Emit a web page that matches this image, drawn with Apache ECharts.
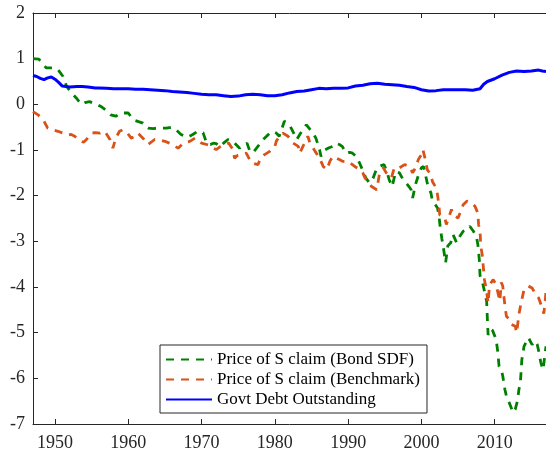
<!DOCTYPE html>
<html>
<head>
<meta charset="utf-8">
<script src="https://cdn.jsdelivr.net/npm/echarts@6/dist/echarts.min.js"></script>
<style>
    html, body { margin: 0; padding: 0; background: #fff; }
    #chart { width: 546px; height: 453px; }
</style>
</head>
<body>
<div id="chart"></div>
<script>
// x tick positions (years)
const yearTicks = [1950, 1960, 1970, 1980, 1990, 2000, 2010];

// Price of S claim (Bond SDF)
const bondYears = [1947, 1947.8, 1948.3, 1948.8, 1949.7, 1950.4, 1951.1, 1951.6, 1952.2, 1952.9,
    1953.6, 1954.1, 1954.7, 1955.8, 1956.4, 1956.9, 1957.6, 1958.3, 1959.0, 1960.0,
    1960.7, 1961.4, 1962.0, 1962.7, 1963.4, 1964.0, 1965.2, 1965.9, 1966.6, 1967.2,
    1968.1, 1968.8, 1969.5, 1970.2, 1970.7, 1971.2, 1971.6, 1972.0, 1972.5, 1973.0,
    1973.6, 1974.3, 1974.7, 1975.2, 1975.7, 1976.2, 1976.6, 1977.0, 1977.5, 1978.4,
    1979.3, 1979.7, 1980.2, 1980.6, 1981.3, 1982.0, 1982.7, 1983.0, 1983.4, 1983.8,
    1984.3, 1984.8, 1985.2, 1985.6, 1986.1, 1986.3, 1986.8, 1987.4, 1987.9, 1988.3,
    1988.8, 1989.2, 1989.7, 1990.2, 1990.6, 1991.1, 1991.6, 1992.0, 1992.4, 1992.9,
    1993.4, 1993.8, 1994.2, 1994.9, 1995.3, 1995.6, 1996.0, 1996.5, 1997.0, 1997.5,
    1997.9, 1998.3, 1998.6, 1998.8, 1999.2, 1999.6, 2000.0, 2000.3, 2000.7, 2000.9,
    2001.3, 2001.5, 2001.9, 2002.2, 2002.4, 2002.6, 2002.8, 2003.0, 2003.3, 2003.6,
    2004.0, 2004.3, 2004.5, 2004.8, 2005.2, 2005.7, 2006.2, 2006.6, 2007.1, 2007.5,
    2007.7, 2007.9, 2008.0, 2008.3, 2008.6, 2008.9, 2009.0, 2009.1, 2009.4, 2009.7,
    2010.2, 2010.4, 2010.6, 2010.9, 2011.1, 2011.4, 2011.6, 2012.0, 2012.5, 2012.8,
    2013.1, 2013.3, 2013.5, 2013.7, 2014.0, 2014.6, 2015.1, 2015.5, 2015.8, 2016.0,
    2016.3, 2016.6, 2016.8, 2017.0];
const bondValues = [1.00, 0.99, 0.90, 0.80, 0.80, 0.76, 0.61, 0.39, 0.26, 0.14,
    0.00, 0.04, 0.06, -0.01, -0.06, -0.12, -0.23, -0.26, -0.19, -0.19,
    -0.34, -0.38, -0.41, -0.52, -0.53, -0.52, -0.52, -0.50, -0.57, -0.66,
    -0.72, -0.66, -0.59, -0.62, -0.85, -0.88, -0.85, -0.86, -0.93, -0.85,
    -0.77, -0.81, -0.88, -0.96, -0.90, -0.85, -1.03, -1.06, -0.96, -0.77,
    -0.63, -0.59, -0.63, -0.70, -0.37, -0.45, -0.67, -0.77, -0.66, -0.56,
    -0.45, -0.55, -0.63, -0.74, -0.99, -1.14, -1.00, -0.95, -0.92, -0.85,
    -0.88, -0.92, -1.07, -1.05, -1.07, -1.14, -1.30, -1.45, -1.61, -1.72,
    -1.62, -1.45, -1.36, -1.32, -1.48, -1.65, -1.80, -1.47, -1.50, -1.65,
    -1.72, -1.80, -1.87, -2.05, -1.75, -1.55, -1.39, -1.36, -1.65, -1.80,
    -1.94, -2.12, -2.20, -2.27, -2.45, -2.74, -2.95, -3.14, -3.47, -3.10,
    -3.03, -2.85, -2.92, -3.03, -2.90, -2.78, -2.74, -2.67, -2.78, -2.89,
    -3.07, -3.40, -3.75, -3.87, -4.09, -4.31, -4.70, -5.05, -4.92, -4.95,
    -5.15, -5.40, -5.74, -5.81, -5.95, -6.25, -6.39, -6.54, -6.75, -6.68,
    -6.50, -6.25, -6.10, -5.60, -5.30, -5.11, -5.26, -5.18, -5.26, -5.40,
    -5.66, -5.81, -5.55, -5.30];

// Price of S claim (Benchmark)
const benchYears = [1947, 1947.7, 1948.0, 1948.4, 1949.0, 1949.7, 1950.4, 1951.1, 1951.8, 1952.2,
    1952.7, 1953.6, 1953.9, 1954.3, 1955.0, 1955.5, 1956.1, 1956.8, 1957.5, 1957.9,
    1958.3, 1958.8, 1959.2, 1959.7, 1960.4, 1960.9, 1961.3, 1962.0, 1962.7, 1963.6,
    1964.3, 1965.0, 1965.6, 1966.2, 1966.8, 1967.5, 1968.4, 1969.1, 1969.6, 1970.0,
    1970.7, 1971.1, 1971.6, 1972.0, 1972.6, 1973.2, 1973.7, 1974.3, 1974.5, 1974.9,
    1975.4, 1976.1, 1976.8, 1977.7, 1978.0, 1978.6, 1979.3, 1980.0, 1980.2, 1980.6,
    1981.1, 1981.8, 1982.5, 1983.2, 1983.4, 1983.9, 1984.5, 1984.8, 1985.5, 1986.1,
    1986.6, 1987.1, 1987.5, 1987.9, 1988.8, 1989.3, 1990.0, 1990.9, 1991.6, 1992.0,
    1992.3, 1992.8, 1993.2, 1993.9, 1994.3, 1994.8, 1995.2, 1995.9, 1996.3, 1997.0,
    1997.7, 1998.4, 1998.8, 1999.2, 1999.6, 2000.0, 2000.2, 2000.6, 2000.8, 2001.3,
    2001.5, 2002.0, 2002.2, 2002.4, 2002.5, 2003.2, 2003.4, 2003.8, 2004.1, 2004.3,
    2004.5, 2005.0, 2005.7, 2006.2, 2006.8, 2007.3, 2007.7, 2007.8, 2008.0, 2008.1,
    2008.3, 2008.6, 2008.9, 2009.1, 2009.3, 2009.8, 2010.2, 2010.5, 2010.7, 2010.9,
    2011.1, 2011.4, 2011.6, 2012.0, 2012.3, 2012.8, 2013.0, 2013.3, 2013.6, 2014.0,
    2014.2, 2014.6, 2015.1, 2015.6, 2016.0, 2016.4, 2016.7, 2016.9, 2017.0];
const benchValues = [-0.16, -0.23, -0.28, -0.34, -0.52, -0.56, -0.59, -0.63, -0.67, -0.66,
    -0.70, -0.81, -0.83, -0.77, -0.63, -0.62, -0.63, -0.59, -0.77, -0.96,
    -0.74, -0.59, -0.56, -0.59, -0.74, -0.70, -0.63, -0.74, -0.88, -0.77,
    -0.78, -0.81, -0.85, -0.90, -0.96, -0.85, -0.81, -0.74, -0.80, -0.85,
    -0.88, -0.90, -0.96, -0.99, -0.92, -0.88, -0.85, -0.99, -1.18, -1.12,
    -1.10, -1.07, -1.28, -1.32, -1.20, -1.10, -1.03, -0.92, -0.81, -0.70,
    -0.63, -0.70, -0.85, -0.92, -1.07, -0.90, -0.70, -0.85, -1.03, -1.18,
    -1.36, -1.43, -1.25, -1.14, -1.21, -1.25, -1.25, -1.36, -1.43, -1.50,
    -1.61, -1.72, -1.80, -1.87, -1.50, -1.39, -1.50, -1.61, -1.39, -1.39,
    -1.32, -1.36, -1.50, -1.39, -1.20, -1.10, -0.99, -1.25, -1.43, -1.54,
    -1.69, -1.83, -1.98, -2.23, -2.42, -2.49, -2.63, -2.45, -2.30, -2.42,
    -2.42, -2.49, -2.20, -2.12, -2.15, -2.23, -2.38, -2.63, -2.78, -3.10,
    -3.30, -3.84, -4.10, -4.35, -3.95, -3.84, -3.95, -4.17, -4.31, -3.90,
    -3.98, -4.42, -4.64, -4.71, -4.82, -4.86, -5.00, -4.60, -4.35, -4.06,
    -4.02, -3.98, -4.02, -4.17, -4.24, -4.42, -4.58, -4.30, -4.08];

// Govt Debt Outstanding
const debtYears = [1947, 1947.5, 1948, 1948.5, 1949, 1949.5, 1950, 1950.5, 1951, 1951.5,
    1952, 1953, 1953.7, 1954.5, 1955.5, 1956, 1957, 1958, 1959, 1960,
    1961, 1962, 1963, 1964, 1965, 1966, 1967, 1968, 1969, 1970,
    1971, 1972, 1973, 1974, 1975, 1976, 1977, 1978, 1979, 1980,
    1981, 1982, 1983, 1984, 1985, 1986, 1987, 1988, 1989, 1990,
    1991, 1992, 1993, 1994, 1995, 1996, 1997, 1998, 1999, 2000,
    2001, 2002, 2003, 2004, 2005, 2006, 2007, 2008, 2008.5, 2009,
    2010, 2011, 2012, 2013, 2014, 2015, 2016, 2016.5, 2017];
const debtValues = [0.63, 0.61, 0.57, 0.54, 0.58, 0.60, 0.55, 0.48, 0.40, 0.39,
    0.38, 0.39, 0.39, 0.38, 0.36, 0.36, 0.35, 0.34, 0.34, 0.34,
    0.33, 0.33, 0.32, 0.31, 0.30, 0.28, 0.27, 0.26, 0.24, 0.22,
    0.21, 0.21, 0.19, 0.17, 0.18, 0.21, 0.22, 0.21, 0.19, 0.19,
    0.21, 0.25, 0.28, 0.29, 0.32, 0.35, 0.34, 0.35, 0.35, 0.36,
    0.40, 0.42, 0.45, 0.46, 0.44, 0.43, 0.42, 0.39, 0.37, 0.32,
    0.29, 0.30, 0.32, 0.32, 0.32, 0.32, 0.31, 0.34, 0.44, 0.50,
    0.56, 0.64, 0.70, 0.73, 0.72, 0.73, 0.75, 0.73, 0.72];

const pairs = (xs, ys) => xs.map((x, i) => [x, ys[i]]);

const FONT = 'Liberation Serif';
const AXIS_COLOR = '#262626';

const chart = echarts.init(document.getElementById('chart'));

const xAxisBase = {
    type: 'value',
    min: 1947,
    max: 2017,
    splitLine: { show: false },
    axisLine: { show: true, onZero: false, lineStyle: { color: AXIS_COLOR, width: 1 } },
    axisTick: { show: true, inside: true, length: 5, customValues: yearTicks, lineStyle: { color: AXIS_COLOR } }
};

chart.setOption({
    animation: false,
    backgroundColor: '#fff',
    grid: { left: 33, top: 13, right: 0, bottom: 29 },
    xAxis: [
        Object.assign({}, xAxisBase, {
            position: 'bottom',
            axisLabel: {
                customValues: yearTicks,
                formatter: v => String(v),
                fontFamily: FONT, fontSize: 18, color: AXIS_COLOR, margin: 10
            }
        }),
        Object.assign({}, xAxisBase, {
            position: 'top',
            axisLabel: { show: false }
        })
    ],
    yAxis: {
        type: 'value',
        min: -7,
        max: 2,
        interval: 1,
        splitLine: { show: false },
        axisLine: { show: true, lineStyle: { color: AXIS_COLOR, width: 1 } },
        axisTick: { show: true, inside: true, length: 5, lineStyle: { color: AXIS_COLOR } },
        axisLabel: { fontFamily: FONT, fontSize: 18, color: AXIS_COLOR, margin: 8 }
    },
    legend: {
        orient: 'vertical',
        left: 160,
        top: 345,
        itemWidth: 46,
        itemHeight: 14,
        itemGap: 3,
        padding: [6, 7, 5, 5],
        borderColor: AXIS_COLOR,
        borderWidth: 1,
        backgroundColor: '#fff',
        itemStyle: { opacity: 0 },
        textStyle: { fontFamily: FONT, fontSize: 17, color: '#000' },
        data: ['Price of S claim (Bond SDF)', 'Price of S claim (Benchmark)', 'Govt Debt Outstanding']
    },
    series: [
        {
            name: 'Price of S claim (Bond SDF)',
            type: 'line',
            symbol: 'none',
            data: pairs(bondYears, bondValues),
            itemStyle: { color: '#008000' },
            lineStyle: { color: '#008000', width: 2.8, type: [8, 7] }
        },
        {
            name: 'Price of S claim (Benchmark)',
            type: 'line',
            symbol: 'none',
            data: pairs(benchYears, benchValues),
            itemStyle: { color: '#D95319' },
            lineStyle: { color: '#D95319', width: 2.8, type: [8, 7] }
        },
        {
            name: 'Govt Debt Outstanding',
            type: 'line',
            symbol: 'none',
            data: pairs(debtYears, debtValues),
            itemStyle: { color: '#0000FF' },
            lineStyle: { color: '#0000FF', width: 3 }
        }
    ]
});
</script>
</body>
</html>
